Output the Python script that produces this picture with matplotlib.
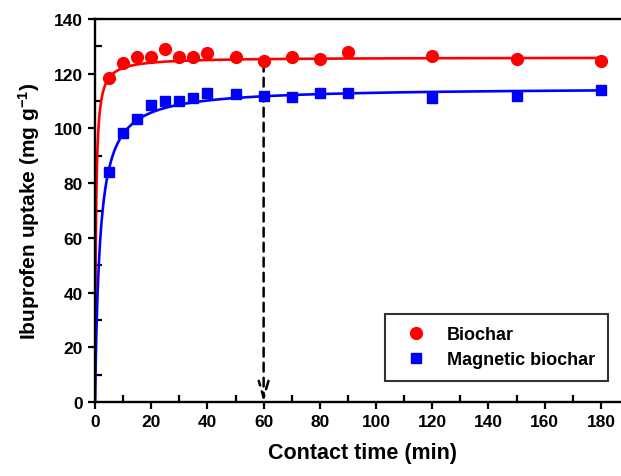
import numpy as np
import matplotlib
matplotlib.use("Agg")
import matplotlib.pyplot as plt
from matplotlib.ticker import MultipleLocator

plt.rcParams['font.family'] = ['Liberation Sans', 'DejaVu Sans']
plt.rcParams['font.weight'] = 'bold'
plt.rcParams['mathtext.fontset'] = 'custom'
plt.rcParams['mathtext.rm'] = 'Liberation Sans:bold'
plt.rcParams['mathtext.default'] = 'rm'

# Data
time_min = [5, 10, 15, 20, 25, 30, 35, 40, 50, 60, 70, 80, 90, 120, 150, 180]
biochar = [118.5, 124, 126, 126, 129, 126, 126, 127.5, 126, 124.5, 126, 125.5, 128, 126.5, 125.5, 124.5]
magnetic = [84, 98.5, 103.5, 108.5, 110, 110, 111, 113, 112.5, 112, 111.5, 113, 113, 111, 112, 114]

# Fitted pseudo-second-order kinetic parameters (qe in mg/g, k in g/mg/min)
qe_bio, k_bio = 126.0, 0.025
qe_mag, k_mag = 115.0, 0.005

def pso(t, qe, k):
    return qe * qe * k * t / (1 + qe * k * t)

fig = plt.figure(figsize=(6.21, 4.77), dpi=100)
ax = fig.add_axes([95/621, 74/477, 534/621, 383/477])

t = np.linspace(0, 180, 800)
ax.plot(t, pso(t, qe_bio, k_bio), color='#ff0000', lw=1.9, zorder=2)
ax.plot(t, pso(t, qe_mag, k_mag), color='#0000ff', lw=1.9, zorder=2)
ax.plot(time_min, biochar, 'o', color='#ff0000', ms=8.5, mec='#ff0000', label='Biochar', zorder=3)
ax.plot(time_min, magnetic, 's', color='#0000ff', ms=7.8, mec='#0000ff', label='Magnetic biochar', zorder=3)

ax.annotate('', xy=(60, 0), xytext=(60, 124),
            arrowprops=dict(arrowstyle='->,head_length=1.2,head_width=0.35', linestyle=(0, (3.5, 2.5)),
                            lw=1.8, color='black', shrinkA=0, shrinkB=0), zorder=1)

ax.set_xlim(0, 190)
ax.set_ylim(0, 140)
ax.xaxis.set_minor_locator(MultipleLocator(10))
ax.yaxis.set_major_locator(MultipleLocator(20))
ax.yaxis.set_minor_locator(MultipleLocator(10))
ax.set_xticks(np.arange(0, 181, 20))
ax.tick_params(which='major', direction='out', length=5, width=1.6, labelsize=12.5, pad=4)
ax.tick_params(which='minor', direction='in', length=5, width=1.6)
for lab in ax.get_xticklabels() + ax.get_yticklabels():
    lab.set_fontweight('bold')

for side in ['left', 'bottom', 'top']:
    ax.spines[side].set_linewidth(1.7)
ax.spines['right'].set_visible(False)

ax.set_xlabel('Contact time (min)', fontsize=15.5, fontweight='bold', labelpad=9)
ax.set_ylabel(r'Ibuprofen uptake (mg g$^{-1}$)', fontsize=15, fontweight='bold', labelpad=8)

leg = ax.legend(loc='lower right', bbox_to_anchor=((608-95)/534, (477-382-74)/383),
                borderaxespad=0, frameon=True, fancybox=False, edgecolor='black',
                handletextpad=0.75, borderpad=0.7, labelspacing=0.45, handlelength=2.0,
                prop={'weight': 'bold', 'size': 13})
leg.get_frame().set_linewidth(1.5)

fig.savefig('out.png', dpi=100)
